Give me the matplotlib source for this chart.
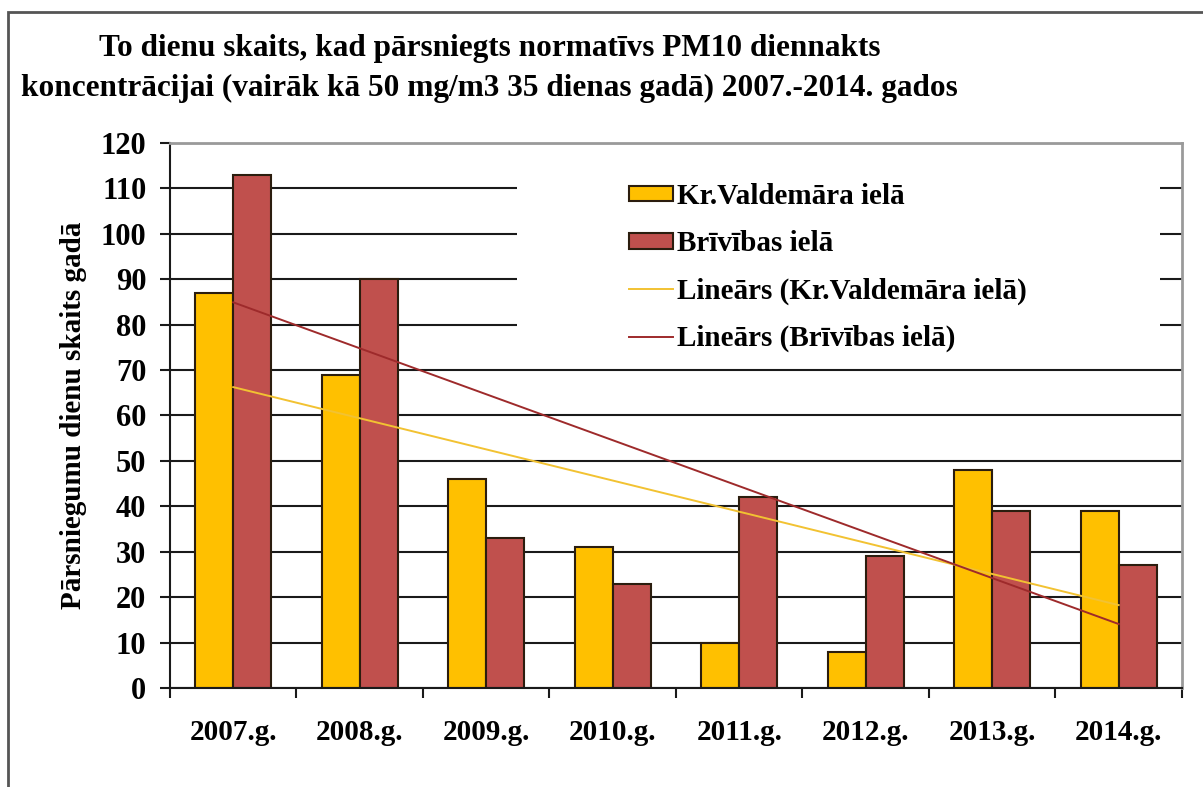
import numpy as np
import matplotlib
import matplotlib.pyplot as plt
from matplotlib.patches import Patch, Rectangle
from matplotlib.lines import Line2D

matplotlib.use("Agg")

plt.rcParams["font.family"] = ["Liberation Serif", "DejaVu Serif"]
plt.rcParams["font.weight"] = "bold"
plt.rcParams["axes.labelweight"] = "bold"

years = ["2007.g.", "2008.g.", "2009.g.", "2010.g.", "2011.g.", "2012.g.", "2013.g.", "2014.g."]
valdemara = [87, 69, 46, 31, 10, 8, 48, 39]
brivibas = [113, 90, 33, 23, 42, 29, 39, 27]

label_valdemara = "Kr.Valdemāra ielā"
label_brivibas = "Brīvības ielā"
title_lines = [
    "To dienu skaits, kad pārsniegts normatīvs PM10 diennakts",
    "koncentrācijai (vairāk kā 50 mg/m3 35 dienas gadā) 2007.-2014. gados",
]
y_label = "Pārsniegumu dienu skaits gadā"

YELLOW = "#FFC000"
RED = "#C0504D"
EDGE = "#2b1d0e"
TREND_Y = "#F2C232"
TREND_R = "#9E2A2B"

fig = plt.figure(figsize=(12.03, 7.87), dpi=100)
ax = fig.add_axes([0.1413, 0.1258, 0.8412, 0.6925])

x = np.arange(len(years))
w = 0.3
ax.bar(x - w / 2, valdemara, w, color=YELLOW, edgecolor=EDGE, linewidth=1.5, zorder=2)
ax.bar(x + w / 2, brivibas, w, color=RED, edgecolor=EDGE, linewidth=1.5, zorder=2)

# least-squares trend lines over the category index
for series, col in [(valdemara, TREND_Y), (brivibas, TREND_R)]:
    k, b = np.polyfit(x + 1, series, 1)
    ax.plot(x, k * (x + 1) + b, color=col, linewidth=1.4, zorder=3)

ax.set_xlim(-0.5, len(years) - 0.5)
ax.set_ylim(0, 120)
ax.set_yticks(np.arange(0, 121, 10))
ax.yaxis.grid(True, color="#1a1a1a", linewidth=1.5)
ax.set_axisbelow(True)

ax.set_xticks(np.arange(-0.5, len(years), 1))
ax.set_xticklabels([])
ax.set_xticks(x, years, minor=True)
ax.tick_params(axis="x", which="major", direction="out", length=7, width=1.5, color="#1a1a1a")
ax.tick_params(axis="x", which="minor", length=0, pad=22, labelsize=21)
ax.tick_params(axis="y", direction="out", length=7, width=1.5, color="#1a1a1a", pad=10, labelsize=22)

for side in ("left", "bottom"):
    ax.spines[side].set_color("#1a1a1a")
    ax.spines[side].set_linewidth(1.5)
for side in ("top", "right"):
    ax.spines[side].set_color("#9a9a9a")
    ax.spines[side].set_linewidth(2)

ax.set_ylabel(y_label, fontsize=21, labelpad=10)

# white legend area hiding the gridlines behind it
ax.add_patch(Rectangle((0.343, 0.62), 0.635, 0.349, transform=ax.transAxes,
                       facecolor="white", edgecolor="none", zorder=1))
handles = [
    Patch(facecolor=YELLOW, edgecolor=EDGE, linewidth=1.5),
    Patch(facecolor=RED, edgecolor=EDGE, linewidth=1.5),
    Line2D([], [], color=TREND_Y, linewidth=1.4),
    Line2D([], [], color=TREND_R, linewidth=1.4),
]
labels = [label_valdemara, label_brivibas,
          f"Lineārs ({label_valdemara})", f"Lineārs ({label_brivibas})"]
ax.legend(handles, labels, loc="upper left", bbox_to_anchor=(0.442, 0.948),
          frameon=False, fontsize=21, handlelength=1.5, handleheight=0.45,
          handletextpad=0.15, labelspacing=0.69, borderaxespad=0)

for i, line in enumerate(title_lines):
    fig.text(0.407, 0.939 - i * 0.051, line, ha="center", va="center", fontsize=22.5)

# outer chart frame
fig.add_artist(Rectangle((8 / 1203, -0.05), 1.2, 1 - 12 / 787 + 0.05,
                         transform=fig.transFigure, facecolor="none",
                         edgecolor="#555555", linewidth=2))

fig.savefig("out.png", dpi=100)
